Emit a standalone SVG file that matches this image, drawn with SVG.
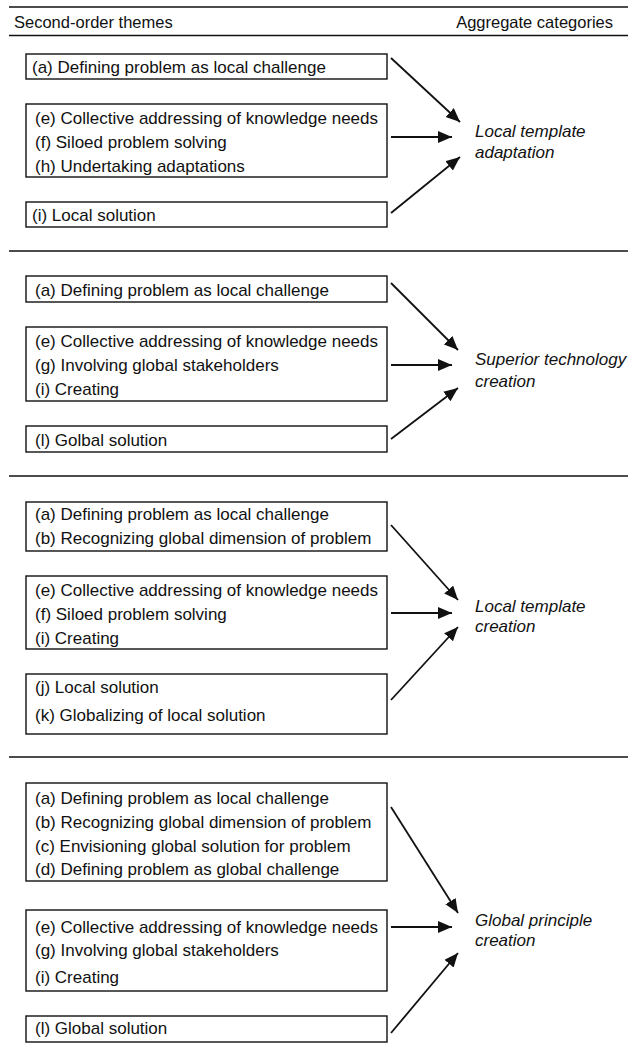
<svg xmlns="http://www.w3.org/2000/svg" width="628" height="1061" viewBox="0 0 628 1061">
<style>
.rule{stroke:#111;stroke-width:1.7}
.box{fill:none;stroke:#111;stroke-width:1.4}
.t{font-family:"Liberation Sans",Arial,Helvetica,sans-serif;font-size:17px;fill:#111}
.h{font-size:16.5px}
.lab{font-style:italic}
.arr{fill:none;stroke:#111;stroke-width:1.8;marker-end:url(#ah)}
</style>
<defs>
<marker id="ah" markerUnits="userSpaceOnUse" markerWidth="15" markerHeight="13" refX="14" refY="6" orient="auto"><path d="M0,0 L14,6 L0,12 z" fill="#111"/></marker>
</defs>
<rect width="628" height="1061" fill="#fff"/>
<g id="rules">
<line class="rule" x1="9" y1="7" x2="628" y2="7"/>
<line class="rule" x1="9" y1="35.5" x2="628" y2="35.5"/>
<line class="rule" x1="9" y1="251" x2="628" y2="251"/>
<line class="rule" x1="9" y1="476" x2="628" y2="476"/>
<line class="rule" x1="9" y1="757" x2="628" y2="757"/>
</g>
<g id="header">
<text class="t h" x="14" y="28">Second-order themes</text>
<text class="t h" x="613" y="28" text-anchor="end">Aggregate categories</text>
</g>
<g id="s1-box-a"><rect class="box" x="26" y="54" width="361" height="25"/><text class="t" x="32" y="73">(a) Defining problem as local challenge</text></g>
<g id="s1-box-b"><rect class="box" x="26" y="104" width="361" height="73"/>
<text class="t" x="35" y="124">(e) Collective addressing of knowledge needs</text>
<text class="t" x="35" y="148">(f) Siloed problem solving</text>
<text class="t" x="35" y="172">(h) Undertaking adaptations</text></g>
<g id="s1-box-c"><rect class="box" x="26" y="202" width="361" height="25"/><text class="t" x="32" y="221">(i) Local solution</text></g>
<g id="s1-category"><text class="t lab" x="475" y="137">Local template</text><text class="t lab" x="475" y="158">adaptation</text></g>

<g id="s2-box-a"><rect class="box" x="26" y="276" width="361" height="26"/><text class="t" x="35" y="296">(a) Defining problem as local challenge</text></g>
<g id="s2-box-b"><rect class="box" x="26" y="327" width="361" height="74"/>
<text class="t" x="35" y="347">(e) Collective addressing of knowledge needs</text>
<text class="t" x="35" y="371">(g) Involving global stakeholders</text>
<text class="t" x="35" y="395">(i) Creating</text></g>
<g id="s2-box-c"><rect class="box" x="26" y="426" width="361" height="26"/><text class="t" x="35" y="446">(l) Golbal solution</text></g>
<g id="s2-category"><text class="t lab" x="475" y="365">Superior technology</text><text class="t lab" x="475" y="387">creation</text></g>

<g id="s3-box-a"><rect class="box" x="26" y="502" width="361" height="49"/>
<text class="t" x="35" y="520">(a) Defining problem as local challenge</text>
<text class="t" x="35" y="544">(b) Recognizing global dimension of problem</text></g>
<g id="s3-box-b"><rect class="box" x="26" y="576" width="361" height="73"/>
<text class="t" x="35" y="596">(e) Collective addressing of knowledge needs</text>
<text class="t" x="35" y="620">(f) Siloed problem solving</text>
<text class="t" x="35" y="644">(i) Creating</text></g>
<g id="s3-box-c"><rect class="box" x="26" y="674" width="361" height="60"/>
<text class="t" x="35" y="693">(j) Local solution</text>
<text class="t" x="35" y="721">(k) Globalizing of local solution</text></g>
<g id="s3-category"><text class="t lab" x="475" y="612">Local template</text><text class="t lab" x="475" y="632">creation</text></g>

<g id="s4-box-a"><rect class="box" x="26" y="783" width="361" height="98"/>
<text class="t" x="35" y="804">(a) Defining problem as local challenge</text>
<text class="t" x="35" y="828">(b) Recognizing global dimension of problem</text>
<text class="t" x="35" y="852">(c) Envisioning global solution for problem</text>
<text class="t" x="35" y="875">(d) Defining problem as global challenge</text></g>
<g id="s4-box-b"><rect class="box" x="26" y="910" width="361" height="81"/>
<text class="t" x="35" y="933">(e) Collective addressing of knowledge needs</text>
<text class="t" x="35" y="956">(g) Involving global stakeholders</text>
<text class="t" x="35" y="983">(i) Creating</text></g>
<g id="s4-box-c"><rect class="box" x="26" y="1016" width="361" height="26"/><text class="t" x="35" y="1034">(l) Global solution</text></g>
<g id="s4-category"><text class="t lab" x="475" y="926">Global principle</text><text class="t lab" x="475" y="946">creation</text></g>

<g id="connectors">
<path class="arr" d="M391,58 L460,122"/>
<path class="arr" d="M391,137 L452,137"/>
<path class="arr" d="M391,213 L460,157"/>
<path class="arr" d="M391,283 L458,350"/>
<path class="arr" d="M391,365 L452,365"/>
<path class="arr" d="M391,439 L458,388"/>
<path class="arr" d="M391,525 L458,600"/>
<path class="arr" d="M391,613 L452,613"/>
<path class="arr" d="M391,700 L458,627"/>
<path class="arr" d="M391,807 L458,913"/>
<path class="arr" d="M391,927 L452,927"/>
<path class="arr" d="M391,1033 L458,953"/>
</g>
</svg>
